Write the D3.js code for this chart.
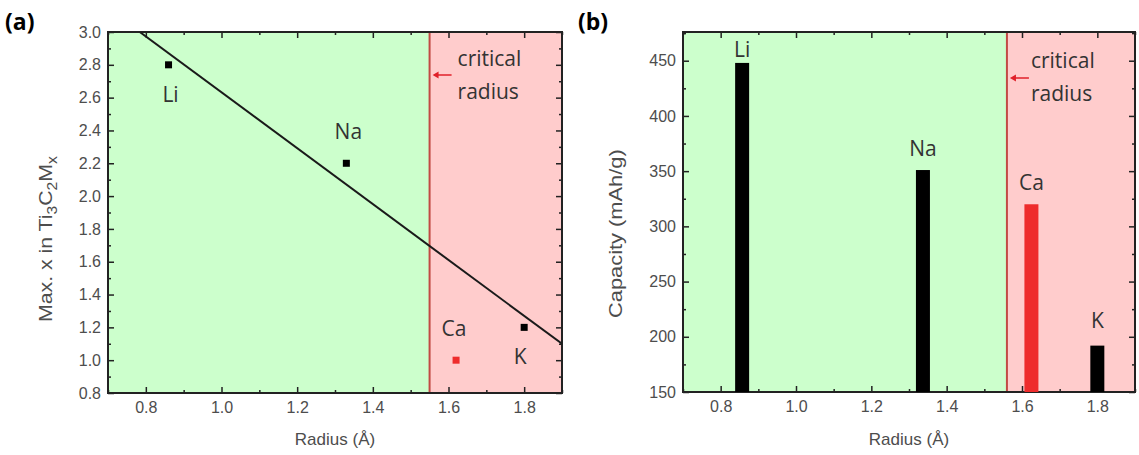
<!DOCTYPE html>
<html>
<head>
<meta charset="utf-8">
<script src="https://cdn.jsdelivr.net/npm/d3@7"></script>
<style>
  body { margin: 0; background: #fff; }
  .tick text { font-family: "Liberation Sans", Arial, sans-serif; font-size: 16px; fill: #4d4d4d; }
  .lbl { font-family: "Open Sans", "Noto Sans", sans-serif; font-size: 21px; fill: #333; }
</style>
</head>
<body>
<svg id="chart" width="1139" height="455"></svg>
<script>
// data
const elements = ["Li", "Na", "Ca", "K"];
const radiusA = [0.86, 1.33, 1.62, 1.80];
const maxX = [2.8, 2.2, 1.0, 1.2];
const fitRadius = [0.784, 1.9];
const fitMaxX = [3.0, 1.10];
const radiusB = [0.857, 1.337, 1.625, 1.80];
const capacity = [448, 351, 320, 192];
const criticalA = 1.55;
const criticalB = 1.56;
const xTicks = [0.8, 1.0, 1.2, 1.4, 1.6, 1.8];
const yTicksA = [0.8, 1.0, 1.2, 1.4, 1.6, 1.8, 2.0, 2.2, 2.4, 2.6, 2.8, 3.0];
const yTicksB = [150, 200, 250, 300, 350, 400, 450];

const svg = d3.select("#chart");
const GREEN = "#ccffcc", PINK = "#ffcccc", LINE = "#c24a44", ARROW = "#e0202a", RED = "#ee2c2c";

function frame(g, x, y, critical, xMinor, yMajor, yMinor, fmt) {
    let [x0, x1] = x.range();
    let [y0, y1] = y.range();
    g.append("rect").attr("x", x0).attr("y", y1).attr("width", x(critical) - x0).attr("height", y0 - y1).attr("fill", GREEN);
    g.append("rect").attr("x", x(critical)).attr("y", y1).attr("width", x1 - x(critical)).attr("height", y0 - y1).attr("fill", PINK);
    g.append("line").attr("x1", x(critical)).attr("x2", x(critical)).attr("y1", y1).attr("y2", y0)
        .attr("stroke", LINE).attr("stroke-width", 2);

    let axes = g.append("g");
    axes.append("g").attr("transform", `translate(0,${y0})`)
        .call(d3.axisBottom(x).tickValues(xTicks).tickSize(-6).tickPadding(9).tickFormat(d3.format(".1f")));
    axes.append("g").attr("transform", `translate(0,${y0})`)
        .call(d3.axisBottom(x).tickValues(xMinor).tickSize(-3).tickFormat(""));
    axes.append("g").attr("transform", `translate(0,${y1})`)
        .call(d3.axisTop(x).tickValues(xTicks).tickSize(-6).tickFormat(""));
    axes.append("g").attr("transform", `translate(0,${y1})`)
        .call(d3.axisTop(x).tickValues(xMinor).tickSize(-3).tickFormat(""));
    axes.append("g").attr("transform", `translate(${x0},0)`)
        .call(d3.axisLeft(y).tickValues(yMajor).tickSize(-6).tickPadding(7).tickFormat(fmt));
    axes.append("g").attr("transform", `translate(${x0},0)`)
        .call(d3.axisLeft(y).tickValues(yMinor).tickSize(-3).tickFormat(""));
    axes.append("g").attr("transform", `translate(${x1},0)`)
        .call(d3.axisRight(y).tickValues(yMajor).tickSize(-6).tickFormat(""));
    axes.append("g").attr("transform", `translate(${x1},0)`)
        .call(d3.axisRight(y).tickValues(yMinor).tickSize(-3).tickFormat(""));
    axes.selectAll(".domain").remove();
    axes.selectAll(".tick line").attr("stroke", "#222").attr("stroke-width", 1.5);

    g.append("rect").attr("x", x0).attr("y", y1).attr("width", x1 - x0).attr("height", y0 - y1)
        .attr("fill", "none").attr("stroke", "#222").attr("stroke-width", 2);
}

function critLabel(g, x, critical, ay, tx, ty) {
    let cx = x(critical);
    g.append("line").attr("x1", cx + 22).attr("x2", cx + 5).attr("y1", ay).attr("y2", ay)
        .attr("stroke", ARROW).attr("stroke-width", 1.5);
    g.append("path").attr("d", `M${cx + 3},${ay} l6,-3.5 l0,7 z`).attr("fill", ARROW);
    g.append("text").attr("class", "lbl").attr("x", cx + tx).attr("y", ty).text("critical");
    g.append("text").attr("class", "lbl").attr("x", cx + tx).attr("y", ty + 33).text("radius");
}

// ---------- panel (a)
const xa = d3.scaleLinear().domain([0.7, 1.9]).range([108, 562]);
const ya = d3.scaleLinear().domain([0.8, 3.0]).range([393, 32]);
const ga = svg.append("g");
frame(ga, xa, ya, criticalA, [0.7, 0.9, 1.1, 1.3, 1.5, 1.7, 1.9],
    yTicksA, d3.range(0.9, 3.0, 0.2), d3.format(".1f"));

ga.append("clipPath").attr("id", "clipA").append("rect")
    .attr("x", 108).attr("y", 32).attr("width", 454).attr("height", 361);
ga.append("line").attr("clip-path", "url(#clipA)")
    .attr("x1", xa(fitRadius[0])).attr("y1", ya(fitMaxX[0]))
    .attr("x2", xa(fitRadius[1])).attr("y2", ya(fitMaxX[1]))
    .attr("stroke", "#1a1a1a").attr("stroke-width", 2);

const pts = elements.map((el, i) => ({el: el, r: radiusA[i], v: maxX[i]}));
ga.selectAll(".pt").data(pts).enter().append("rect")
    .attr("x", d => xa(d.r) - 3.5).attr("y", d => ya(d.v) - 3.5)
    .attr("width", 7).attr("height", 7)
    .attr("fill", d => d.el === "Ca" ? RED : "#000");
const belowA = {Li: true, K: true};
ga.selectAll(".ptl").data(pts).enter().append("text").attr("class", "lbl")
    .attr("text-anchor", "middle")
    .attr("x", d => xa(d.r) + (d.el === "K" ? -4 : d.el === "Ca" ? -2 : 2))
    .attr("y", d => ya(d.v) + (belowA[d.el] ? 37 : -24))
    .text(d => d.el);
critLabel(ga, xa, criticalA, 75, 28, 66);

ga.append("text").attr("x", 5).attr("y", 30)
    .style("font-family", "'Open Sans', sans-serif").style("font-size", "23px").style("font-weight", "bold")
    .text("(a)");
ga.append("text").attr("x", 335).attr("y", 445).attr("text-anchor", "middle")
    .style("font-family", "'Liberation Sans', Arial, sans-serif").style("font-size", "17px").style("fill", "#4d4d4d")
    .text("Radius (Å)");
let ta = ga.append("text").attr("transform", "translate(52,322) rotate(-90) scale(1.12,1)")
    .style("font-family", "'Liberation Sans', Arial, sans-serif").style("font-size", "19px").style("fill", "#4d4d4d");
ta.append("tspan").text("Max. x in Ti");
ta.append("tspan").attr("dy", 5).style("font-size", "14px").text("3");
ta.append("tspan").attr("dy", -5).text("C");
ta.append("tspan").attr("dy", 5).style("font-size", "14px").text("2");
ta.append("tspan").attr("dy", -5).text("M");
ta.append("tspan").attr("dy", 5).style("font-size", "14px").text("x");

// ---------- panel (b)
const xb = d3.scaleLinear().domain([0.7, 1.9]).range([683, 1135]);
const yb = d3.scaleLinear().domain([150, 476]).range([392, 32]);
const gb = svg.append("g");
frame(gb, xb, yb, criticalB, [0.7, 0.9, 1.1, 1.3, 1.5, 1.7, 1.9],
    yTicksB, [175, 225, 275, 325, 375, 425, 475], d3.format("d"));

const bars = elements.map((el, i) => ({el: el, r: radiusB[i], v: capacity[i]}));
gb.selectAll(".bar").data(bars).enter().append("rect")
    .attr("x", d => xb(d.r) - 7).attr("y", d => yb(d.v))
    .attr("width", 14).attr("height", d => yb(150) - yb(d.v))
    .attr("fill", d => d.el === "Ca" ? RED : "#000");
gb.selectAll(".barl").data(bars).enter().append("text").attr("class", "lbl")
    .attr("text-anchor", "middle")
    .attr("x", d => xb(d.r))
    .attr("y", d => Math.max(yb(d.v) - (d.el === "K" ? 18 : 14), 57))
    .text(d => d.el);
critLabel(gb, xb, criticalB, 78, 24, 68);

gb.append("text").attr("x", 578).attr("y", 30)
    .style("font-family", "'Open Sans', sans-serif").style("font-size", "23px").style("font-weight", "bold")
    .text("(b)");
gb.append("text").attr("x", 909).attr("y", 445).attr("text-anchor", "middle")
    .style("font-family", "'Liberation Sans', Arial, sans-serif").style("font-size", "17px").style("fill", "#4d4d4d")
    .text("Radius (Å)");
gb.append("text").attr("transform", "translate(622,318) rotate(-90) scale(1.15,1)")
    .style("font-family", "'Liberation Sans', Arial, sans-serif").style("font-size", "19px").style("fill", "#4d4d4d")
    .text("Capacity (mAh/g)");
</script>
</body>
</html>
